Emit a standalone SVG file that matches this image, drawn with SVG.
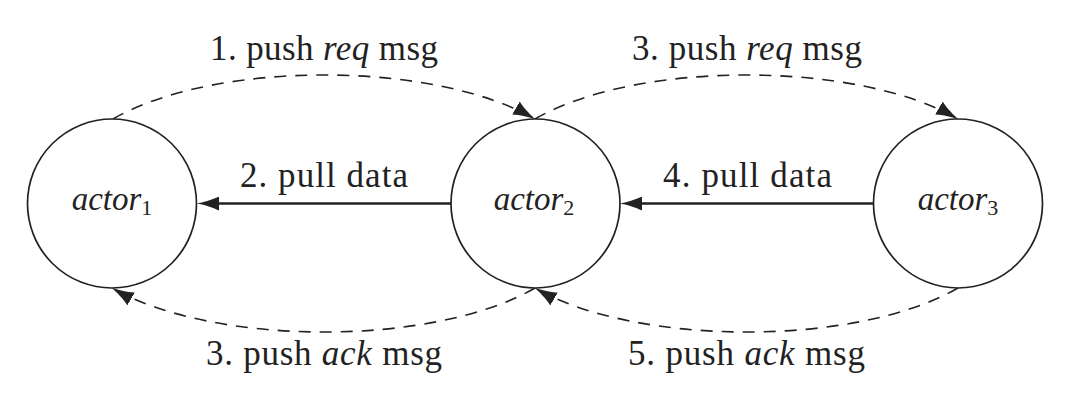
<svg xmlns="http://www.w3.org/2000/svg" width="1080" height="417" viewBox="0 0 1080 417">
  <style>
    .node { fill: #ffffff; stroke: #222222; stroke-width: 1.7; }
    .solid { fill: none; stroke: #222222; stroke-width: 2.6; }
    .dash { fill: none; stroke: #222222; stroke-width: 1.6; stroke-dasharray: 12 9; }
    .lbl { font-family: "Liberation Serif", "Times New Roman", serif; font-size: 35px; fill: #222222; }
    .act { font-family: "Liberation Serif", "Times New Roman", serif; font-size: 33px; font-style: italic; fill: #222222; }
    .sub { font-size: 22px; font-style: normal; }
    .it { font-style: italic; }
  </style>
  <defs>
    <marker id="arrS" markerUnits="userSpaceOnUse" markerWidth="22" markerHeight="14" viewBox="0 0 22 14" refX="12" refY="7" orient="auto">
      <path d="M22,7 C16,8 6,11 0,14 L0,0 C6,3 16,6 22,7 Z" fill="#222222"/>
    </marker>
    <marker id="arrD" markerUnits="userSpaceOnUse" markerWidth="23" markerHeight="15" viewBox="0 0 23 15" refX="22" refY="7.5" orient="auto">
      <path d="M23,7.5 C17,8.5 6,11.5 0,15 L0,0 C6,3.5 17,6.5 23,7.5 Z" fill="#222222"/>
    </marker>
  </defs>

  <g id="connectors">
    <path class="solid" d="M451,203.5 L207,203.5" marker-end="url(#arrS)"/>
    <path class="solid" d="M873,203.5 L630,203.5" marker-end="url(#arrS)"/>
    <path class="dash" d="M113,119 C214.6,60.3 433.4,60.3 535,119" marker-end="url(#arrD)"/>
    <path class="dash" d="M535,119 C636.6,60.3 856.4,60.3 958,119" marker-end="url(#arrD)"/>
    <path class="dash" d="M535,288 C433.4,346.7 214.6,346.7 112,288" marker-end="url(#arrD)"/>
    <path class="dash" d="M958,288 C856.4,346.7 636.6,346.7 535,288" marker-end="url(#arrD)"/>
  </g>

  <g id="labels">
    <text class="lbl" x="210" y="60" textLength="228" lengthAdjust="spacing">1. push <tspan class="it">req</tspan> msg</text>
    <text class="lbl" x="632" y="60" textLength="230" lengthAdjust="spacing">3. push <tspan class="it">req</tspan> msg</text>
    <text class="lbl" x="240" y="187" textLength="168" lengthAdjust="spacing">2. pull data</text>
    <text class="lbl" x="663" y="187" textLength="169" lengthAdjust="spacing">4. pull data</text>
    <text class="lbl" x="206" y="365" textLength="236" lengthAdjust="spacing">3. push <tspan class="it">ack</tspan> msg</text>
    <text class="lbl" x="628" y="365" textLength="237" lengthAdjust="spacing">5. push <tspan class="it">ack</tspan> msg</text>
  </g>

  <g id="actor1">
    <circle class="node" cx="112" cy="203.5" r="84.5"/>
    <text class="act" x="112" y="210" text-anchor="middle">actor<tspan class="sub" dy="5">1</tspan></text>
  </g>
  <g id="actor2">
    <circle class="node" cx="535.5" cy="203.5" r="84.5"/>
    <text class="act" x="534" y="210" text-anchor="middle">actor<tspan class="sub" dy="5">2</tspan></text>
  </g>
  <g id="actor3">
    <circle class="node" cx="958" cy="203.5" r="84.5"/>
    <text class="act" x="958" y="210" text-anchor="middle">actor<tspan class="sub" dy="5">3</tspan></text>
  </g>
</svg>
